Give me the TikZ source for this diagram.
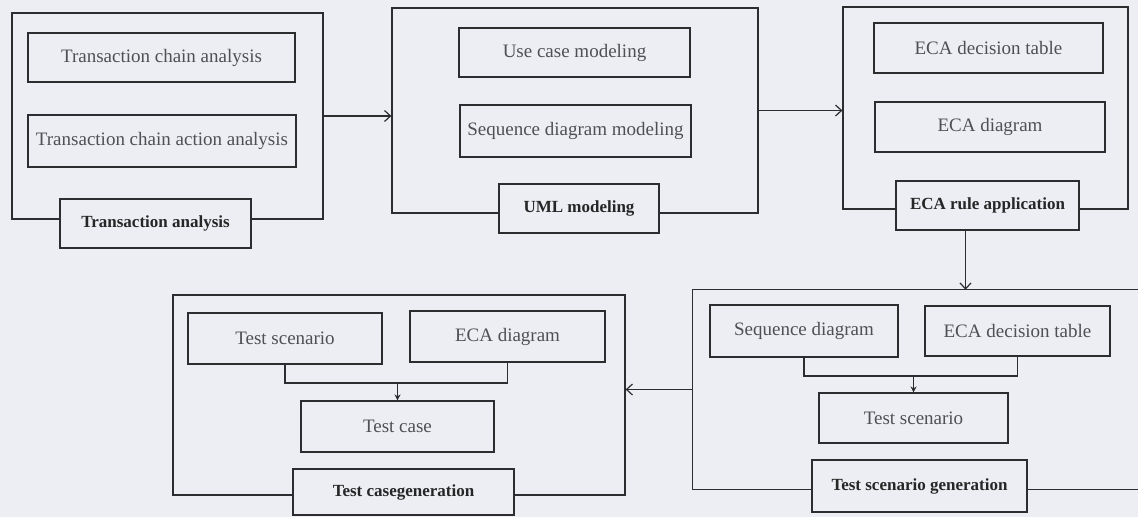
\documentclass[tikz,border=0pt]{standalone}
\usepackage{fontspec}
\setmainfont{Liberation Serif}
\usetikzlibrary{arrows.meta}
\definecolor{bg}{RGB}{236,238,243}
\definecolor{ln}{RGB}{45,45,48}
\definecolor{tx}{RGB}{80,80,84}
\begin{document}
\begin{tikzpicture}[x=1pt,y=-1pt,
  outer/.style={draw=ln, line width=1.2pt, inner sep=0pt},
  ghost/.style={inner sep=0pt},
  inbox/.style={draw=ln, line width=1.1pt, fill=bg, inner sep=0pt, text=tx, font=\fontsize{19}{21}\selectfont},
  lab/.style={draw=ln, line width=1.2pt, fill=bg, inner sep=0pt, text=black!85, font=\fontsize{17}{19}\selectfont\bfseries},
  flow/.style={draw=ln, line width=1.2pt, -{Straight Barb[length=6pt,width=11pt]}},
  joinline/.style={draw=ln, line width=1.1pt},
  merge/.style={draw=ln, line width=1.1pt, -{Stealth[length=6pt,width=6pt]}}]
\fill[bg] (0,0) rectangle (1138,517);
\useasboundingbox (0,0) rectangle (1138,517);

% Group 1: Transaction analysis
\node[outer, minimum width=311pt, minimum height=206pt] (g1) at (167.5,116) {};
\node[inbox, minimum width=267pt, minimum height=49pt] (t1a) at (161.5,57.5) {Transaction chain analysis};
\node[inbox, minimum width=268pt, minimum height=52pt] (t1b) at (162,141) {Transaction chain action analysis};
\node[lab, minimum width=191pt, minimum height=49pt] (l1) at (155.5,223.5) {Transaction analysis};

% Group 2: UML modeling
\node[outer, minimum width=366pt, minimum height=205pt] (g2) at (575,110.5) {};
\node[inbox, minimum width=231pt, minimum height=49pt] (u1) at (574.5,52.5) {Use case modeling};
\node[inbox, minimum width=231pt, minimum height=52pt] (u2) at (575.5,131) {Sequence diagram modeling};
\node[lab, minimum width=160pt, minimum height=49pt] (l2) at (579,208.5) {UML modeling};

% Group 3: ECA rule application
\node[outer, minimum width=285pt, minimum height=202pt] (g3) at (985.5,108) {};
\node[inbox, minimum width=229pt, minimum height=50pt] (e1) at (988.5,48) {ECA decision table};
\node[inbox, minimum width=230pt, minimum height=50pt] (e2) at (990,127) {ECA diagram};
\node[lab, minimum width=183pt, minimum height=49pt] (l3) at (987.5,205.5) {ECA rule application};

% Group 4: Test scenario generation (right side runs off the picture)
\node[ghost, minimum width=445pt, minimum height=199pt] (g4) at (915.5,389.5) {};
\draw[ln, line width=1.2pt] (g4.north east) -- (g4.north west) -- (g4.south west) -- (g4.south east);
\node[inbox, minimum width=188pt, minimum height=52pt] (s1) at (804,331) {Sequence diagram};
\node[inbox, minimum width=185pt, minimum height=50pt] (s2) at (1017.5,331) {ECA decision table};
\node[inbox, minimum width=189pt, minimum height=50pt] (s3) at (913.5,418) {Test scenario};
\node[lab, minimum width=215pt, minimum height=52pt] (l4) at (919.5,486) {Test scenario generation};
\coordinate (m4) at (913.5,376);
\draw[joinline] (s1.south) |- (m4) -| (s2.south);
\draw[merge] (m4) -- (s3.north);

% Group 5: Test case generation
\node[outer, minimum width=452pt, minimum height=200pt] (g5) at (399,395) {};
\node[inbox, minimum width=194pt, minimum height=51pt] (c1) at (285,338.5) {Test scenario};
\node[inbox, minimum width=195pt, minimum height=51pt] (c2) at (507.5,336.5) {ECA diagram};
\node[inbox, minimum width=193pt, minimum height=51pt] (c3) at (397.5,426.5) {Test case};
\node[lab, minimum width=221pt, minimum height=46pt] (l5) at (403.5,492) {Test casegeneration};
\coordinate (m5) at (397.5,383);
\draw[joinline] (c1.south) |- (m5) -| (c2.south);
\draw[merge] (m5) -- (c3.north);

% Flow between groups
\draw[flow] (g1.east) -- (g1.east -| g2.west);
\draw[flow] (g2.east) -- (g2.east -| g3.west);
\coordinate (d3) at ([xshift=-22pt]l3.south);
\draw[flow] (d3) -- (d3 |- g4.north);
\draw[flow] (g4.west) -- (g4.west -| g5.east);
\end{tikzpicture}
\end{document}
